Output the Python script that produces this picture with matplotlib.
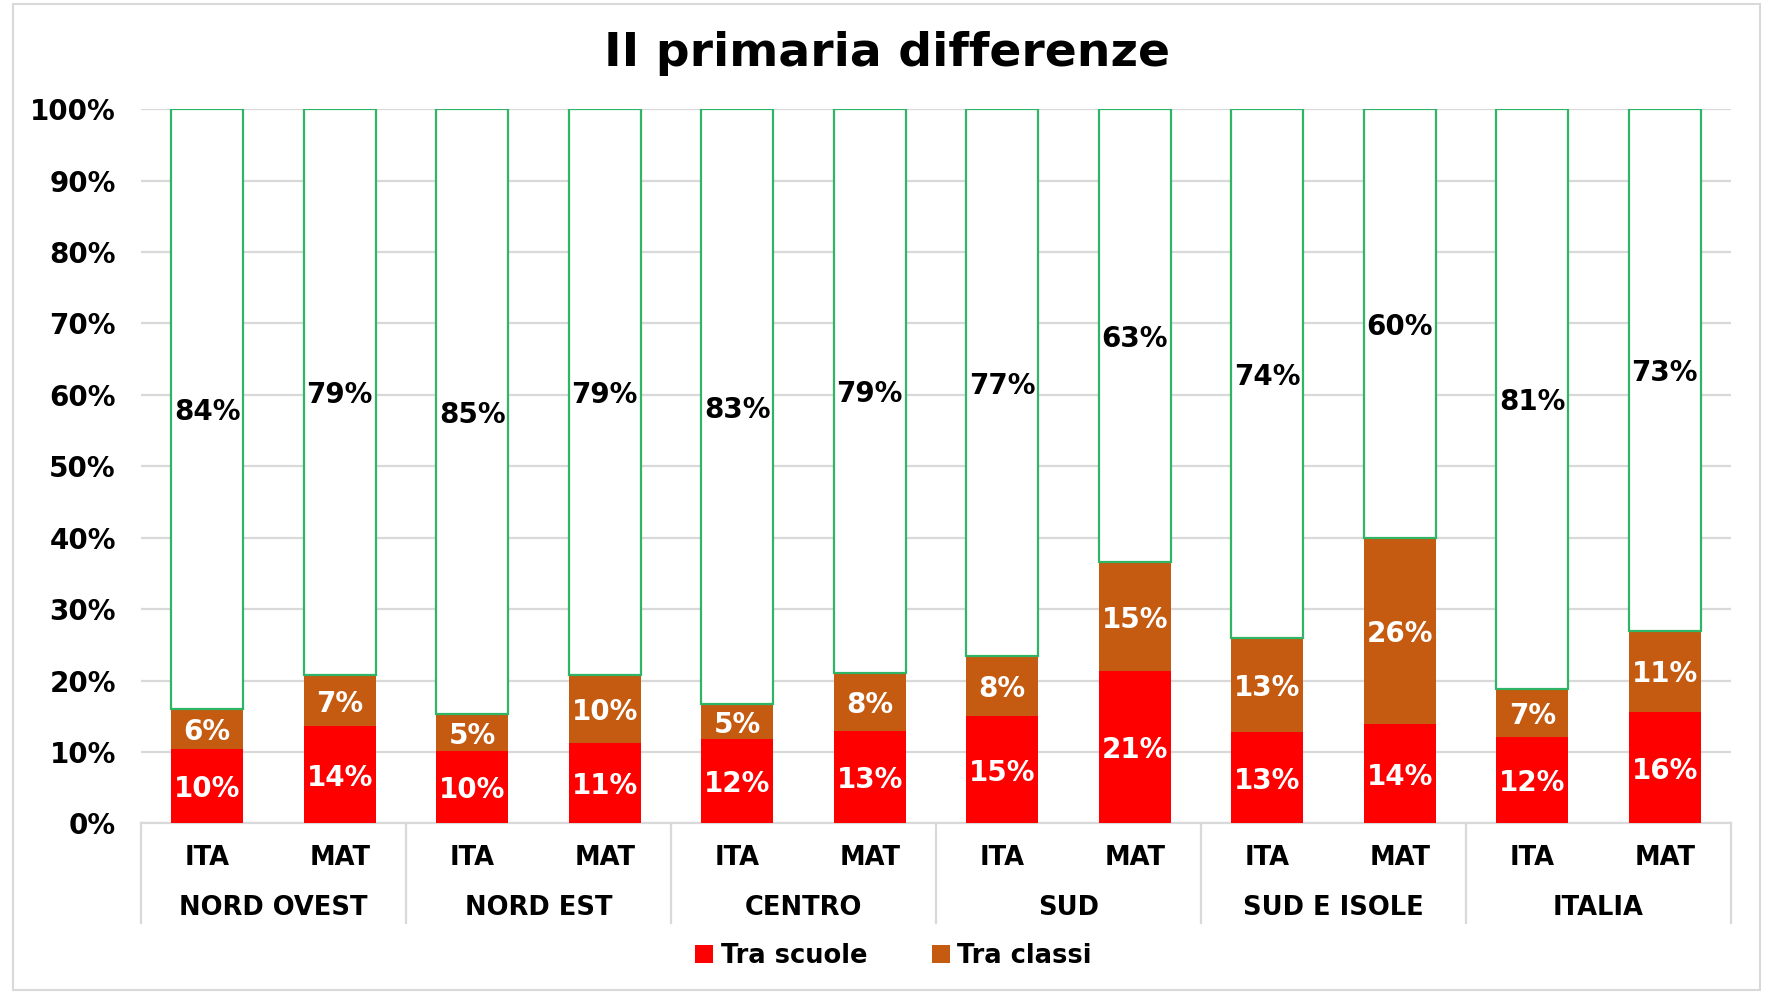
import matplotlib
matplotlib.use('Agg')
import matplotlib.pyplot as plt
import matplotlib.transforms as mtransforms
from matplotlib.patches import Rectangle, Patch

# Data (percent of variance)
groups = ['NORD OVEST', 'NORD EST', 'CENTRO', 'SUD', 'SUD E ISOLE', 'ITALIA']
subjects = ['ITA', 'MAT']
tra_scuole = [10.4, 13.6, 10.1, 11.2, 11.8, 12.9, 15.0, 21.3, 12.8, 13.9, 12.1, 15.6]
tra_classi = [5.6, 7.2, 5.2, 9.6, 4.9, 8.2, 8.4, 15.3, 13.1, 26.0, 6.7, 11.4]
dentro_classi = [84.0, 79.2, 84.7, 79.2, 83.3, 78.9, 76.6, 63.4, 74.1, 60.1, 81.2, 73.0]

RED = '#ff0000'
BROWN = '#c55a11'
GREEN = '#2fb565'
GRID = '#d9d9d9'

plt.rcParams['font.family'] = 'DejaVu Sans'
plt.rcParams['font.weight'] = 'bold'

fig = plt.figure(figsize=(17.66, 9.92), dpi=100)
ax = fig.add_axes([0.0798, 0.170, 0.9004, 0.720])

n = len(tra_scuole)
x = list(range(n))
w = 0.545

ax.bar(x, tra_scuole, w, color=RED, zorder=3)
ax.bar(x, tra_classi, w, bottom=tra_scuole, color=BROWN, zorder=3)
b3 = [a + b for a, b in zip(tra_scuole, tra_classi)]
ax.bar(x, dentro_classi, w, bottom=b3, color='white', edgecolor=GREEN,
       linewidth=1.6, zorder=3)

# segment labels
for i in range(n):
    ax.text(i, tra_scuole[i] / 2, f"{tra_scuole[i]:.0f}%", ha='center', va='center_baseline',
            color='white', fontsize=20, fontweight='bold', zorder=4)
    ax.text(i, tra_scuole[i] + tra_classi[i] / 2, f"{tra_classi[i]:.0f}%", ha='center',
            va='center_baseline', color='white', fontsize=20, fontweight='bold', zorder=4)
    ax.text(i, b3[i] + dentro_classi[i] / 2, f"{dentro_classi[i]:.0f}%", ha='center',
            va='center_baseline', color='black', fontsize=20, fontweight='bold', zorder=4)

ax.set_xlim(-0.5, n - 0.5)
ax.set_ylim(0, 100)
ax.set_yticks(range(0, 101, 10))
ax.set_yticklabels([f"{v}%" for v in range(0, 101, 10)], fontsize=20, fontweight='bold')
ax.tick_params(axis='y', length=0, pad=18)
ax.set_xticks([])
ax.yaxis.grid(True, color=GRID, linewidth=1.6, zorder=0)
ax.set_axisbelow(True)
for s in ['left', 'right', 'top']:
    ax.spines[s].set_visible(False)
ax.spines['bottom'].set_color(GRID)
ax.spines['bottom'].set_linewidth(1.6)

# two-level category axis
trans = mtransforms.blended_transform_factory(ax.transData, ax.transAxes)
for i in range(n):
    ax.text(i, -0.048, subjects[i % 2], transform=trans, ha='center', va='center',
            fontsize=18.5, fontweight='bold')
for g, name in enumerate(groups):
    ax.text(2 * g + 0.5, -0.118, name, transform=trans, ha='center', va='center',
            fontsize=18.5, fontweight='bold')
for k in range(len(groups) + 1):
    ax.plot([2 * k - 0.5, 2 * k - 0.5], [0, -0.14], transform=trans, color=GRID,
            linewidth=1.6, clip_on=False)

fig.text(0.502, 0.946, 'II primaria differenze', ha='center', va='center',
         fontsize=34, fontweight='bold')

handles = [Patch(facecolor=RED, label='Tra scuole'), Patch(facecolor=BROWN, label='Tra classi')]
fig.legend(handles=handles, loc='center', bbox_to_anchor=(0.506, 0.036), ncol=2,
           frameon=False, prop={'size': 18.5, 'weight': 'bold'}, handlelength=0.7,
           handleheight=0.7, handletextpad=0.3, columnspacing=2.5)

# outer chart border
fig.patches.append(Rectangle((13 / 1766, 0.002), 1747 / 1766, 0.994, transform=fig.transFigure,
                             fill=False, edgecolor=GRID, linewidth=1.5))

fig.savefig('out.png', dpi=100)
